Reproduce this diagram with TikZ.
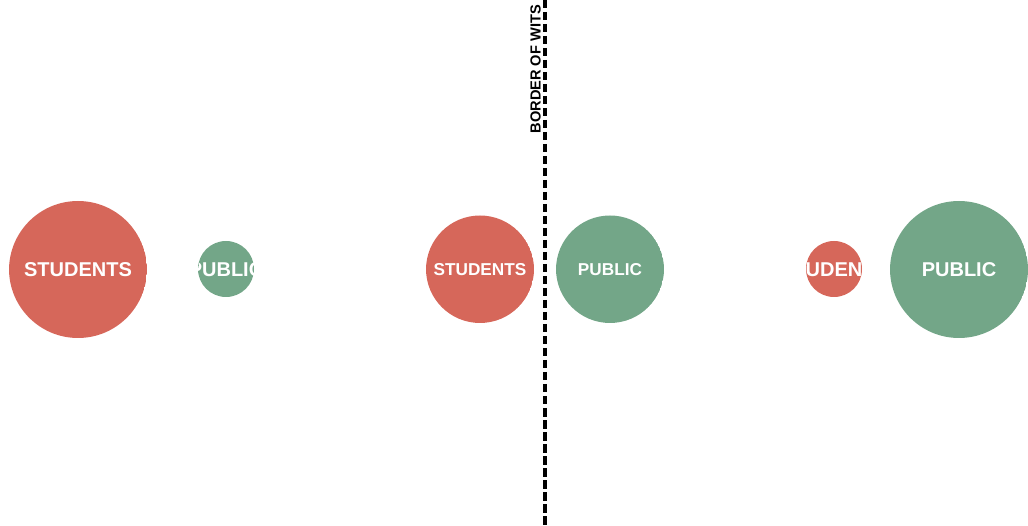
\documentclass[tikz,border=0pt]{standalone}
\usepackage{fontspec}
\setmainfont{Liberation Sans}
\definecolor{stured}{HTML}{D6675A}
\definecolor{pubgreen}{HTML}{73A688}
\tikzset{
  bubble/.style={circle, fill=#1, draw=none, inner sep=0pt, text=white,
    font=\fontsize{20}{24}\selectfont\bfseries},
  midbubble/.style={bubble=#1, font=\fontsize{17.2}{20}\selectfont\bfseries},
  border/.style={line width=3.5pt, dash pattern=on 8.5pt off 3.5pt},
}
\begin{document}
\begin{tikzpicture}[x=1pt,y=-1pt]
\useasboundingbox (0,0) rectangle (1028,526);
% left group
\begin{scope}
  \clip (78,269) circle (69);
  \node[bubble=stured, minimum size=138pt] (s1) at (78,270) {STUDENTS};
\end{scope}
\begin{scope}
  \clip (226,269) circle (28);
  \node[bubble=pubgreen, minimum size=56pt] (p1) at (226,270) {PUBLIC};
\end{scope}
% middle group
\begin{scope}
  \clip (480,269) circle (54);
  \node[midbubble=stured, minimum size=108pt] (s2) at (480,269.5) {STUDENTS};
\end{scope}
\begin{scope}
  \clip (610,269) circle (54);
  \node[midbubble=pubgreen, minimum size=108pt] (p2) at (610,269.5) {PUBLIC};
\end{scope}
% right group
\begin{scope}
  \clip (834,269) circle (28);
  \node[bubble=stured, minimum size=56pt] (s3) at (834,270) {STUDENTS};
\end{scope}
\begin{scope}
  \clip (959,269) circle (69);
  \node[bubble=pubgreen, minimum size=138pt] (p3) at (959,270) {PUBLIC};
\end{scope}
% border
\coordinate (btop) at (545,0);
\coordinate (bbot) at (545,526);
\draw[border] (btop) -- (bbot);
\node[rotate=90, anchor=south east, inner sep=0pt, font=\fontsize{14.6}{16}\selectfont\bfseries] (blabel) at (541,5) {BORDER OF WITS};
\end{tikzpicture}
\end{document}
